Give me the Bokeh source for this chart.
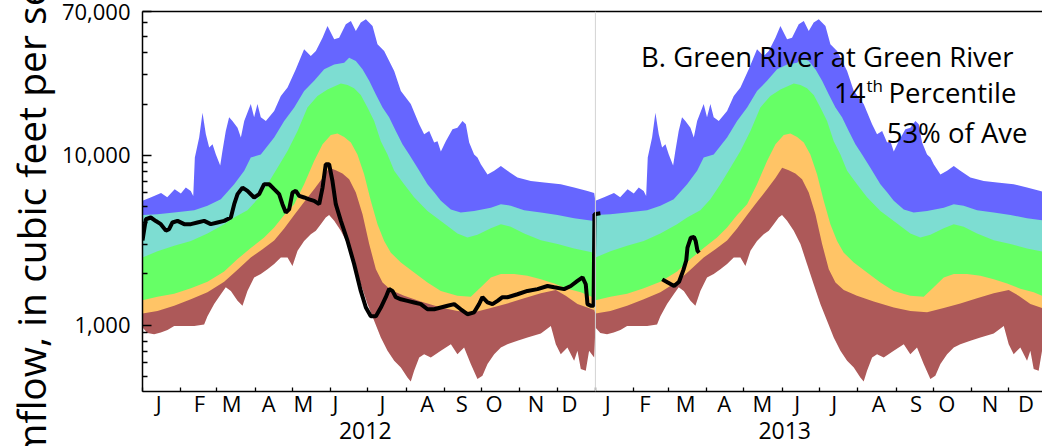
from bokeh.plotting import figure
from bokeh.models import FixedTicker, Label, Span, LinearAxis, Title
from bokeh.embed import file_html
from bokeh.resources import INLINE

FONT = "Open Sans"
NAN = float("nan")

# ---------------- data (day of year 0 = Jan 1, flow in cubic feet per second) -------------
max_day = [0, 7, 15, 20, 26, 31, 35, 39, 41, 42.3, 45.8, 48.5, 51.2, 53.9, 56.6, 59.3, 62.8, 64.6, 67.3,
           70, 72.7, 76.8, 79.5, 82.2, 87.5, 90.2, 92.9, 95.6, 99.7, 106.4, 111.8, 117.2, 123.9, 130.6, 136,
           140.1, 145.5, 149.5, 154.9, 158.9, 164.3, 168.4, 172.4, 176.4, 180.5, 185.9, 189.9, 195.3, 203.4,
           208.8, 216.8, 223.6, 227.6, 231.7, 235.7, 238.4, 241.1, 245.1, 250.5, 254.5, 258.6, 261.3, 264,
           268, 270.7, 273.4, 278.8, 284.2, 289.6, 294.9, 303, 313.8, 324.6, 338, 348.8, 359.6, 365]
max_cfs = [5400, 5650, 6000, 5650, 6300, 5950, 6450, 6150, 5750, 9700, 12700, 17800, 13300, 11100, 11600,
           10100, 8700, 10600, 13900, 16700, 15900, 14500, 12700, 15900, 20000, 16700, 20000, 16700, 15900,
           18200, 22300, 25000, 32100, 42000, 38400, 41100, 49200, 57600, 48100, 49200, 58900, 61700, 53900,
           60300, 63100, 57600, 45000, 41100, 31300, 23900, 20000, 15200, 13300, 13900, 11900, 12100, 10500,
           12100, 14200, 14500, 15900, 15200, 11900, 10100, 9700, 8850, 7700, 8100, 8650, 8100, 7400, 7050,
           6900, 6750, 6450, 6150, 6000]

p90_day = [0, 12.1, 25.6, 41.8, 52.5, 63.3, 74.1, 82.2, 87.5, 95.6, 106.4, 114.5, 122.6, 130.6, 138.7, 146.8,
           154.9, 163, 167, 172.4, 177.8, 183.2, 188.6, 194, 199.3, 204.7, 210.1, 215.5, 222.2, 230.3, 235.7,
           241.1, 249.2, 257.2, 268, 281.5, 289.6, 297.6, 308.4, 321.9, 335.4, 348.8, 365]
p90_cfs = [4450, 4500, 4600, 4750, 5050, 5500, 6750, 8100, 9700, 10100, 12700, 15900, 19100, 23900, 27400,
           32100, 34200, 35000, 37500, 35900, 32100, 27400, 22800, 19100, 16700, 13900, 11600, 10100, 8450,
           6750, 6050, 5400, 4800, 4600, 4700, 4900, 5150, 5050, 4750, 4600, 4450, 4250, 4100]

p75_day = [0, 12.1, 25.6, 39.1, 52.5, 66, 74.1, 84.8, 92.9, 101, 109.1, 117.2, 125.3, 133.3, 141.4, 149.5,
           160.3, 165.7, 171, 176.4, 181.8, 187.2, 192.6, 198, 203.4, 211.4, 219.5, 230.3, 241.1, 254.5,
           262.6, 270.7, 281.5, 289.6, 297.6, 308.4, 321.9, 335.4, 348.8, 365]
p75_cfs = [2500, 2720, 2930, 3130, 3460, 3930, 4300, 4750, 5500, 6750, 8450, 10600, 13900, 19100, 22300,
           24400, 26400, 25900, 24800, 22600, 19100, 15900, 12100, 10100, 8100, 6750, 5650, 4700, 4100, 3460,
           3280, 3400, 3720, 3930, 3790, 3460, 3160, 3000, 2830, 2670]

p25_day = [0, 12.1, 25.6, 39.1, 52.5, 66, 76.8, 87.5, 98.3, 106.4, 114.5, 122.6, 130.6, 138.7, 145.5, 152.2,
           157.6, 163, 168.4, 173.7, 179.1, 184.5, 189.9, 195.3, 200.7, 208.8, 219.5, 230.3, 241.1, 254.5,
           265.3, 273.4, 281.5, 289.6, 300.4, 311.1, 321.9, 332.7, 343.4, 354.2, 365]
p25_cfs = [1400, 1470, 1530, 1650, 1800, 2070, 2450, 2840, 3280, 3750, 4450, 5150, 6750, 9260, 11600, 13150,
           13400, 12800, 11900, 10100, 7730, 5400, 3930, 3130, 2670, 2340, 2040, 1780, 1590, 1490, 1470, 1670,
           1910, 2000, 2000, 1950, 1860, 1760, 1640, 1560, 1450]

p10_day = [0, 12.1, 25.6, 39.1, 52.5, 66, 76.8, 87.5, 97, 106.4, 114.5, 122.6, 130.6, 138.7, 145.5, 150.9,
           156.2, 161.6, 167, 172.4, 177.8, 183.2, 188.6, 194, 200.7, 211.4, 224.9, 241.1, 254.5, 268, 281.5,
           294.9, 308.4, 321.9, 334, 342, 351.5, 365]
p10_cfs = [1170, 1210, 1300, 1420, 1560, 1800, 2120, 2500, 2800, 3150, 3700, 4450, 5300, 6300, 7350, 8450,
           8150, 7800, 7220, 6030, 4500, 3000, 2130, 1780, 1610, 1490, 1380, 1270, 1210, 1190, 1260, 1340,
           1440, 1540, 1610, 1490, 1330, 1230]

min_day = [0, 4, 9.4, 14.8, 20.2, 25.6, 33.7, 41.8, 49.8, 52.5, 57.9, 63.3, 67.3, 71.4, 76.8, 80.8, 84.8,
           90.2, 95.6, 101, 106.4, 111.8, 117.2, 121.2, 125.3, 130.6, 136, 140.1, 144.1, 148.1, 150.8, 154.9,
           160.3, 165.7, 171, 176.4, 181.8, 187.2, 192.6, 198, 203.4, 208.8, 214.1, 216.8, 219.5, 223.6,
           227.6, 233, 241.1, 249.2, 254.5, 259.9, 265.3, 270.7, 274.7, 278.8, 284.2, 289.6, 294.9, 303,
           311.1, 321.9, 330, 334, 338, 343.4, 348.8, 351.5, 354.2, 358.2, 360.9, 365]
min_cfs = [970, 900, 885, 905, 935, 990, 990, 990, 1010, 1130, 1330, 1520, 1670, 1590, 1390, 1300, 1590,
           1910, 2000, 2130, 2290, 2500, 2500, 2230, 2740, 3130, 3430, 3590, 3930, 4300, 4450, 4110, 3590,
           3000, 2290, 1740, 1330, 1060, 846, 706, 617, 564, 492, 466, 539, 645, 675, 645, 706, 773, 675,
           739, 590, 482, 503, 590, 675, 739, 773, 809, 846, 893, 990, 773, 675, 739, 617, 706, 552, 539,
           706, 645]

# observed daily flow, days counted from Jan 1 2012 (gap = no data)
flow_day = [0, 2.7, 6.7, 10.8, 14.8, 18.9, 21.5, 24.2, 28.3, 33.7, 39.1, 44.4, 49.8, 55.2, 60.6, 66, 71.4,
            74.1, 76.8, 80.8, 84.8, 90.2, 94.3, 98.3, 102.4, 106.4, 110.4, 113.1, 115.8, 118.5, 121.2, 123.9,
            126.6, 130.6, 134.7, 138.7, 142.8, 145.5, 148.1, 150.8, 153.5, 156.2, 160.3, 165.7, 171, 176.4,
            180.5, 184.5, 188.6, 192.6, 196.6, 199.3, 202, 204.7, 208.8, 214.1, 219.5, 224.9, 230.3, 235.7,
            241.1, 246.5, 251.9, 257.2, 262.6, 268, 272, 274.7, 278.8, 282.8, 286.9, 290.9, 294.9, 303,
            311.1, 319.2, 327.3, 332.7, 340.7, 346.1, 351.5, 355.6, 358.2, 359.6, 362.3, 364.5, 365.2, 370,
            NAN, 420, 424.5, 429.6, 433.6, 437, 439.4, 440.4, 443.1, 445.7, 447, 448.5, 449.8]
flow_cfs = [3150, 4200, 4300, 4100, 3930, 3600, 3670, 4020, 4110, 3930, 3930, 4020, 4110, 3930, 4020, 4110,
            4300, 5150, 5900, 6450, 6170, 5640, 5900, 6750, 6750, 6310, 5900, 5150, 4600, 4800, 6030, 6170,
            5770, 5640, 5500, 5390, 5150, 6450, 8850, 8850, 7060, 5150, 4110, 3130, 2290, 1590, 1270, 1130,
            1130, 1270, 1460, 1630, 1590, 1460, 1420, 1390, 1360, 1330, 1240, 1240, 1270, 1300, 1330, 1240,
            1160, 1190, 1330, 1460, 1360, 1330, 1390, 1460, 1460, 1520, 1590, 1630, 1700, 1670, 1630, 1700,
            1820, 1910, 1740, 1330, 1300, 1300, 4500, 4550, NAN, 1860, 1780, 1700, 1800, 2100, 2400, 2860,
            3270, 3300, 3130, 2740, 2670]

month_letters = ["J", "F", "M", "A", "M", "J", "J", "A", "S", "O", "N", "D"]
year_labels = ["2012", "2013"]
y_tick_values = [1000, 10000, 70000]
y_tick_labels = ["1,000", "10,000", "70,000"]
title_lines = ["B. Green River at Green River", "14", "th", " Percentile", "53% of Ave"]
y_axis_title = "Streamflow, in cubic feet per second"

# ---------------- layout ----------------
YEAR_DAYS = 366  # 2012 is a leap year
month_starts = [0, 31, 60, 91, 121, 152, 182, 213, 244, 274, 305, 335,
                366, 397, 425, 456, 486, 517, 547, 578, 609, 639, 670, 700, 731]
month_label_pos = [13, 46, 72, 102, 130, 156, 194, 230, 258, 284, 318, 345,
                   376, 406, 439, 470, 501, 529, 559, 595, 625, 650, 685, 714]
year_label_pos = [180, 519]

p = figure(width=1042, height=446, y_axis_type="log",
           x_range=(0, 727.3), y_range=(407, 70100),
           output_backend="svg", toolbar_location=None,
           min_border_left=142, min_border_right=0, min_border_top=11, min_border_bottom=55)
p.background_fill_color = "white"
p.border_fill_color = "white"
p.outline_line_color = None
p.grid.grid_line_color = None

FLOOR = 100
layers = [(max_day, max_cfs, "#6666FF"),
          (p90_day, p90_cfs, "#7DDDD2"),
          (p75_day, p75_cfs, "#66FF66"),
          (p25_day, p25_cfs, "#FFC466"),
          (p10_day, p10_cfs, "#AD5959"),
          (min_day, min_cfs, "#FFFFFF")]
for days, cfs, color in layers:
    xs = list(days) + [d + YEAR_DAYS for d in days]
    ys = list(cfs) + list(cfs)
    p.varea(x=xs, y1=FLOOR, y2=ys, fill_color=color)

p.add_layout(Span(location=YEAR_DAYS, dimension="height", line_color="#d4d4d4", line_width=1))

p.line(x=flow_day, y=flow_cfs, line_color="black", line_width=4)

# y axis
ya = p.yaxis[0]
ya.ticker = FixedTicker(ticks=y_tick_values,
                        minor_ticks=[500, 600, 700, 800, 900, 2000, 3000, 4000, 5000, 6000, 7000, 8000,
                                     9000, 20000, 30000, 40000, 50000, 60000])
ya.major_label_overrides = dict(zip(y_tick_values, y_tick_labels))
ya.major_tick_in = 9
ya.major_tick_out = 0
ya.minor_tick_in = 5
ya.minor_tick_out = 0
ya.axis_line_width = 1.5
ya.major_tick_line_width = 1.3
ya.minor_tick_line_width = 1.3
ya.major_label_standoff = 12
ya.major_label_text_font = FONT
ya.major_label_text_font_size = "22px"
ya.major_label_text_color = "black"

# y-axis title, placed in the left border (cut by the page edge as in the original)
p.add_layout(Title(text=y_axis_title, align="left", vertical_align="top", offset=-163, standoff=0,
                   text_font=FONT, text_font_size="39px", text_font_style="normal",
                   text_color="black"), "left")

# x axis (months)
xa = p.xaxis[0]
xa.ticker = FixedTicker(ticks=month_label_pos, minor_ticks=month_starts)
xa.major_label_overrides = dict(zip(month_label_pos, month_letters * 2))
xa.major_tick_in = 0
xa.major_tick_out = 0
xa.minor_tick_in = 4
xa.minor_tick_out = 0
xa.minor_tick_line_width = 1.3
xa.axis_line_width = 1.5
xa.major_label_standoff = -4
xa.major_label_text_font = FONT
xa.major_label_text_font_size = "22px"
xa.major_label_text_color = "black"

# year labels (second row under the months)
yr_axis = LinearAxis(ticker=FixedTicker(ticks=year_label_pos),
                     major_label_overrides=dict(zip(year_label_pos, year_labels)),
                     axis_line_color=None, major_tick_line_color=None, minor_tick_line_color=None,
                     major_tick_in=0, major_tick_out=0, minor_tick_in=0, minor_tick_out=0,
                     major_label_standoff=1, major_label_text_font=FONT,
                     major_label_text_font_size="23px", major_label_text_color="black")
p.add_layout(yr_axis, "below")

# top frame line
top_axis = LinearAxis(ticker=FixedTicker(ticks=[]), axis_line_width=1.5,
                      major_tick_line_color=None, minor_tick_line_color=None,
                      major_tick_in=0, major_tick_out=0, minor_tick_in=0, minor_tick_out=0,
                      major_label_standoff=0)
p.add_layout(top_axis, "above")


def label(text, x, y, size, align="left"):
    p.add_layout(Label(x=x, y=y, x_units="screen", y_units="screen", text=text,
                       text_font=FONT, text_font_size=size, text_align=align,
                       text_baseline="alphabetic", text_color="black"))


# panel title (frame-relative screen offsets)
label(title_lines[0], 871, 335, "27.5px", align="right")
label(title_lines[1], 723, 299, "27.5px", align="right")
label(title_lines[2], 724, 306, "17px", align="left")
label(title_lines[3], 881, 299, "27.5px", align="right")
label(title_lines[4], 885, 259, "27.5px", align="right")

open("out.html", "w").write(file_html(p, INLINE))
